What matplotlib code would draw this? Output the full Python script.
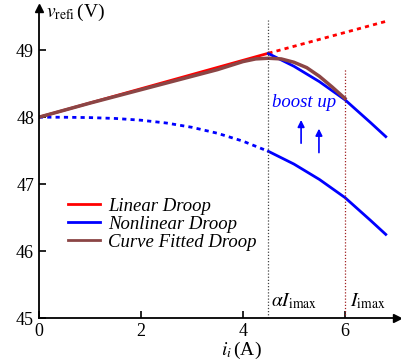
import matplotlib.pyplot as plt

plt.rcParams['font.family'] = ['Liberation Serif', 'DejaVu Serif']
plt.rcParams['mathtext.fontset'] = 'stix'

# Linear droop (solid part and extension)
lin_x = [0, 4.5]
lin_y = [48.0, 48.955]
lin_ext_x = [4.5, 6.8]
lin_ext_y = [48.955, 49.43]

# Nonlinear droop: original curve (dotted up to alpha*Imax, then solid)
nl_dot_x = [0, 0.5, 1, 1.5, 2, 2.5, 3, 3.5, 4, 4.5]
nl_dot_y = [48.0, 47.999, 47.994, 47.981, 47.955, 47.913, 47.849, 47.76, 47.642, 47.49]
nl_x = [4.5, 5.0, 5.5, 6.0, 6.5, 6.8]
nl_lo_y = [47.49, 47.30, 47.07, 46.80, 46.46, 46.25]
nl_hi_y = [48.95, 48.76, 48.53, 48.26, 47.92, 47.71]

# Curve fitted droop
cf_x = [0, 0.5, 1, 1.5, 2, 2.5, 3, 3.5, 3.75, 4, 4.25, 4.5, 4.75, 5, 5.25, 5.5, 5.75, 6]
cf_y = [48.0, 48.105, 48.21, 48.31, 48.41, 48.51, 48.61, 48.71, 48.77, 48.83, 48.87, 48.88,
        48.87, 48.82, 48.74, 48.61, 48.45, 48.28]

alpha_imax = 4.5
imax = 6.0

fig = plt.figure(figsize=(4.01, 3.64), dpi=100)
ax = fig.add_axes([0.097, 0.126, 0.893, 0.852])

ax.plot(lin_x, lin_y, color='red', lw=2, label='Linear Droop')
ax.plot(lin_ext_x, lin_ext_y, color='red', lw=2, linestyle=(0, (1.5, 1.5)))
ax.plot(nl_dot_x, nl_dot_y, color='blue', lw=2, linestyle=(0, (1.5, 1.5)))
ax.plot(nl_x, nl_lo_y, color='blue', lw=2, label='Nonlinear Droop')
ax.plot(nl_x, nl_hi_y, color='blue', lw=2)
ax.plot(cf_x, cf_y, color='#8b4545', lw=2.5, label='Curve Fitted Droop')

ax.plot([alpha_imax, alpha_imax], [45, 49.45], color='#444444', lw=0.9, linestyle=(0, (1, 1.5)))
ax.plot([imax, imax], [45, 48.73], color='#a02020', lw=0.9, linestyle=(0, (1, 1.5)))

ax.text(alpha_imax + 0.05, 45.1, r'$\alpha I_{\rm imax}$', fontsize=14, ha='left', va='bottom')
ax.text(imax + 0.1, 45.1, r'$I_{\rm imax}$', fontsize=14, ha='left', va='bottom')
ax.text(5.2, 48.22, 'boost up', color='blue', fontsize=13.5, style='italic', ha='center', va='center')
ax.annotate('', xy=(5.14, 48.0), xytext=(5.14, 47.57),
            arrowprops=dict(arrowstyle='-|>', color='blue', lw=1.2, mutation_scale=10))
ax.annotate('', xy=(5.49, 47.87), xytext=(5.49, 47.43),
            arrowprops=dict(arrowstyle='-|>', color='blue', lw=1.2, mutation_scale=10))

ax.set_xlim(0, 7.02)
ax.set_ylim(45, 49.63)
ax.set_xticks([0, 2, 4, 6])
ax.set_yticks([45, 46, 47, 48, 49])
ax.tick_params(direction='in', labelsize=13, length=5, width=1.2)
for s in ['top', 'right']:
    ax.spines[s].set_visible(False)
for s in ['left', 'bottom']:
    ax.spines[s].set_linewidth(1.3)
ax.plot(1, 0, '>k', transform=ax.transAxes, clip_on=False, markersize=6)
ax.plot(0, 1, '^k', transform=ax.transAxes, clip_on=False, markersize=6)

ax.text(0.02, 0.985, r'$v_{\rm refi}\,$(V)', transform=ax.transAxes, fontsize=14, ha='left', va='center')
ax.text(3.96, 44.52, r'$i_i\,$(A)', fontsize=14, ha='center', va='center')

leg = ax.legend(loc='upper left', bbox_to_anchor=(0.06, 0.413), frameon=False,
                prop={'style': 'italic', 'size': 13.5}, handlelength=1.7,
                handletextpad=0.45, labelspacing=0.05, borderaxespad=0)
for h in leg.get_lines():
    h.set_linewidth(2)

plt.savefig('out.png', dpi=100)
